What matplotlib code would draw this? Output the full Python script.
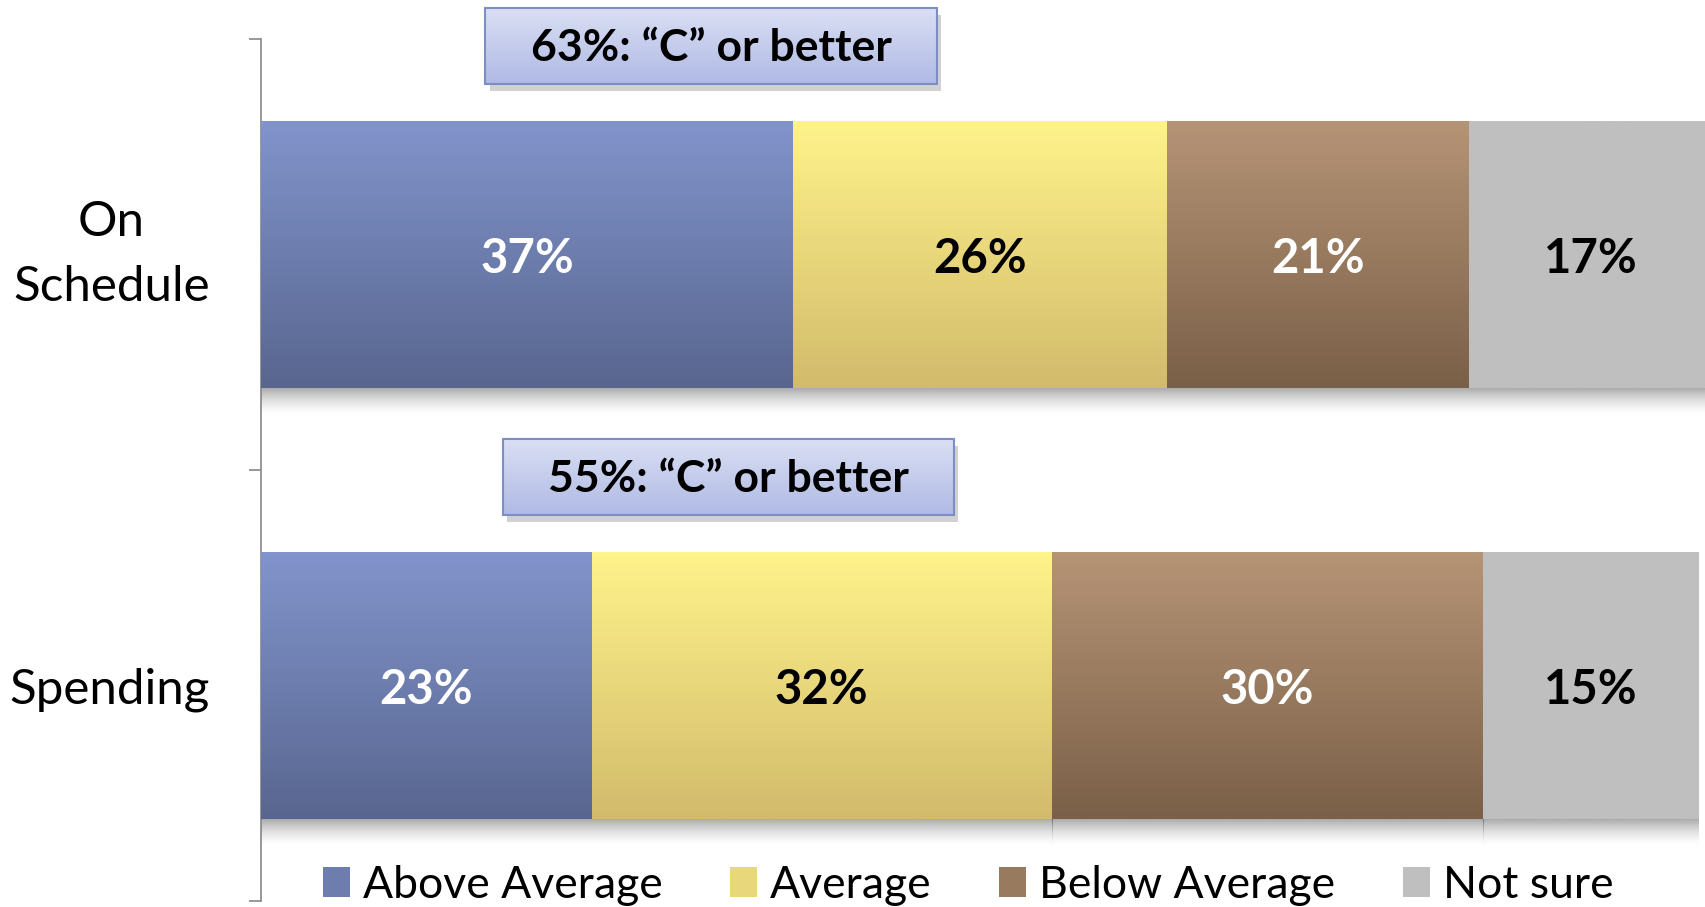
import numpy as np
import matplotlib.pyplot as plt
from matplotlib.patches import Rectangle, Patch
from matplotlib.colors import LinearSegmentedColormap, to_rgb

# Оценки по категориям (в процентах)
categories = ['On\nSchedule', 'Spending']
series = ['Above Average', 'Average', 'Below Average', 'Not sure']
above_average = [37, 23]
average = [26, 32]
below_average = [21, 30]
not_sure = [17, 15]

# Градиент для каждой серии: цвет сверху и снизу
top_colors = ['#8294cc', '#fff38b', '#b69476', '#bfbfbf']
bottom_colors = ['#58668f', '#d2bb6c', '#7a6048', '#bfbfbf']
text_colors = ['white', 'black', 'white', 'black']

plt.rcParams['font.family'] = ['Lato', 'DejaVu Sans']

fig = plt.figure(figsize=(17.06, 9.07), dpi=100)
ax = fig.add_axes([261 / 1706, 6 / 907, 1445 / 1706, 862 / 907])

values = [above_average, average, below_average, not_sure]
ypos = np.arange(len(categories))
bar_h = 0.62
grad = np.linspace(0, 1, 256).reshape(-1, 1)


def gradient_fill(patch, top, bottom, zorder):
    x0, y0 = patch.get_x(), patch.get_y()
    w, h = patch.get_width(), patch.get_height()
    cmap = LinearSegmentedColormap.from_list('g', [top, bottom])
    im = ax.imshow(grad, cmap=cmap, aspect='auto', origin='upper',
                   extent=(x0, x0 + w, y0 + h, y0), zorder=zorder,
                   interpolation='bilinear')
    im.set_clip_path(patch)
    return im


def shadow_below(x0, w, y_edge, depth, zorder, strength=0.35):
    n = 64
    rgba = np.zeros((n, 1, 4))
    rgba[:, 0, 3] = strength * np.linspace(1, 0, n) ** 1.6
    ax.imshow(rgba, aspect='auto', origin='upper',
              extent=(x0, x0 + w, y_edge + depth, y_edge), zorder=zorder,
              interpolation='bilinear')


# Составные горизонтальные столбцы с градиентной заливкой
left = np.zeros(len(categories))
for i, vals in enumerate(values):
    bars = ax.barh(ypos, vals, left=left, height=bar_h, color='none',
                   edgecolor='none', zorder=3)
    for j, bar in enumerate(bars):
        gradient_fill(bar, top_colors[i], bottom_colors[i], 3)
        shadow_below(bar.get_x(), bar.get_width(), bar.get_y() + bar_h, 0.065, 2)
        ax.text(bar.get_x() + bar.get_width() / 2, ypos[j] + 0.01, f'{vals[j]}%',
                ha='center', va='center', fontsize=34, fontweight='bold',
                color=text_colors[i], zorder=5)
    left += np.array(vals)

# Плашки "C или лучше" (выше среднего + среднее)
box_left = [15.6, 16.8]
box_w = 31.4
box_h = 0.176
box_cmap = LinearSegmentedColormap.from_list('box', ['#dadff4', '#b0bae4'])
for j in range(len(categories)):
    share = above_average[j] + average[j]
    y_top = ypos[j] - 0.571
    # тень плашки
    sh = Rectangle((box_left[j] + 0.3, y_top + 0.015), box_w, box_h,
                   facecolor='#000000', alpha=0.18, edgecolor='none',
                   zorder=6, clip_on=False)
    ax.add_patch(sh)
    box = Rectangle((box_left[j], y_top), box_w, box_h, facecolor='none',
                    edgecolor='#7d8ec6', linewidth=1.5, zorder=8, clip_on=False)
    ax.add_patch(box)
    im = ax.imshow(grad, cmap=box_cmap, aspect='auto', origin='upper',
                   extent=(box_left[j], box_left[j] + box_w, y_top + box_h, y_top),
                   zorder=7, interpolation='bilinear')
    im.set_clip_on(False)
    ax.text(box_left[j] + box_w / 2, y_top + box_h / 2 + 0.005,
            f'{share}%: \u201cC\u201d or better', ha='center', va='center',
            fontsize=32, fontweight='bold', color='black', zorder=9)

ax.set_xlim(0, 100.5)
ax.set_ylim(1.5, -0.5)

# Ось категорий: деления на границах, подписи по центру
ax.set_yticks([-0.5, 0.5, 1.5])
ax.set_yticklabels([])
ax.set_yticks(ypos, labels=categories, minor=True)
ax.tick_params(axis='y', which='major', direction='out', length=9,
               width=1.2, color='#868686')
ax.tick_params(axis='y', which='minor', length=0, pad=37, labelsize=35.5)
for lbl in ax.get_yticklabels(minor=True):
    lbl.set_multialignment('center')
    lbl.set_linespacing(1.6)
    if '\n' in lbl.get_text():
        lbl.set_verticalalignment('center')
ax.xaxis.set_visible(False)
for side in ['top', 'right', 'bottom']:
    ax.spines[side].set_visible(False)
ax.spines['left'].set_color('#868686')
ax.spines['left'].set_linewidth(1.2)

# Легенда
mid_colors = [tuple((np.array(to_rgb(t)) + np.array(to_rgb(b))) / 2)
              for t, b in zip(top_colors, bottom_colors)]
handles = [Patch(facecolor=c, edgecolor='none') for c in mid_colors]
fig.legend(handles, series, loc='center left', ncol=4,
           bbox_to_anchor=(323 / 1706, 22 / 907), frameon=False,
           fontsize=32, handlelength=0.6, handleheight=0.65,
           handletextpad=0.3, columnspacing=1.52, borderpad=0,
           borderaxespad=0)

fig.savefig('out.png', dpi=100)
